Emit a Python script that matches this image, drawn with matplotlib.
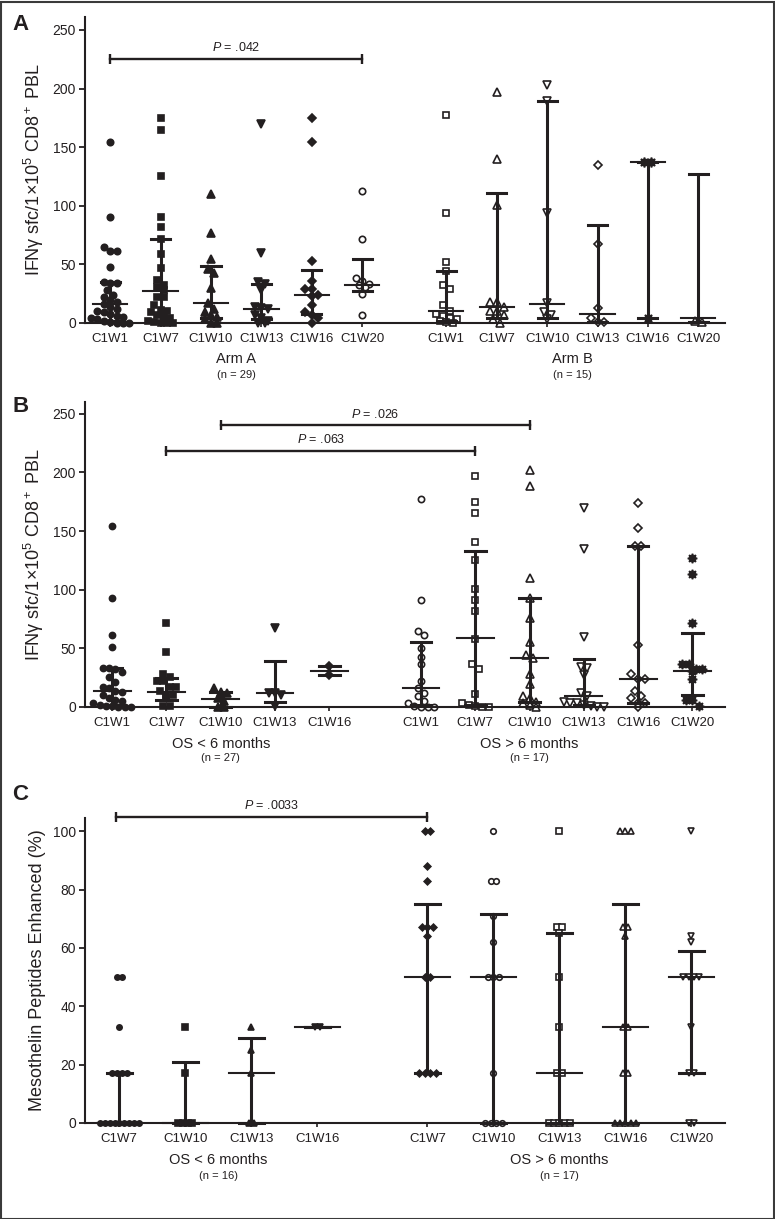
import numpy as np
import matplotlib
matplotlib.use('Agg')
import matplotlib.pyplot as plt
import matplotlib.transforms as mtransforms
from matplotlib.patches import Rectangle

plt.rcParams['font.family'] = ['Liberation Sans', 'DejaVu Sans']
plt.rcParams['mathtext.fontset'] = 'custom'
plt.rcParams['mathtext.rm'] = 'Liberation Sans'
plt.rcParams['mathtext.it'] = 'Liberation Sans:italic'

INK = '#231f20'

# ---- data ----
weeks_a = ['C1W1', 'C1W7', 'C1W10', 'C1W13', 'C1W16', 'C1W20']
weeks_b_short = ['C1W1', 'C1W7', 'C1W10', 'C1W13', 'C1W16']
weeks_c_short = ['C1W7', 'C1W10', 'C1W13', 'C1W16']
weeks_c_long = ['C1W7', 'C1W10', 'C1W13', 'C1W16', 'C1W20']

# panel A, arm A
armA_vals = [
    [154, 90, 65, 61, 61, 48, 35, 34, 34, 28, 24, 22, 20, 18, 16, 14, 12, 10, 9, 8, 6, 5, 4, 3, 2, 1, 0, 0, 0],
    [175, 165, 125, 90, 82, 72, 59, 47, 37, 32, 31, 28, 22, 22, 15, 11, 10, 9, 7, 5, 4, 2, 1, 0, 0, 0],
    [110, 77, 55, 46, 43, 30, 17, 12, 9, 7, 5, 3, 0, 0],
    [170, 60, 35, 33, 28, 14, 13, 12, 7, 4, 2, 0, 0],
    [175, 154, 53, 36, 29, 29, 24, 23, 15, 9, 7, 4, 0],
    [113, 72, 38, 36, 33, 32, 31, 25, 7],
]
armA_med = [16, 27, 17, 12, 24, 32]
armA_q1 = [2, 2, 4, 3, 8, 27]
armA_q3 = [35, 72, 49, 33, 45, 55]

# panel A, arm B
armB_vals = [
    [177, 94, 52, 44, 32, 29, 15, 10, 8, 6, 4, 3, 2, 1, 0],
    [197, 140, 101, 18, 18, 14, 10, 10, 7, 3, 0],
    [203, 189, 94, 17, 9, 7, 3],
    [135, 67, 13, 4, 1, 1],
    [137, 137, 4],
    [2, 1],
]
armB_med = [10, 14, 16, 8, 137, 4]
armB_q1 = [2, 4, 4, 1, 4, 1]
armB_q3 = [44, 111, 189, 84, 137, 127]

# panel B, OS < 6 months
bs_vals = [
    [154, 93, 61, 51, 33, 33, 32, 30, 26, 21, 17, 16, 14, 13, 10, 8, 6, 5, 3, 2, 1, 1, 0, 0, 0],
    [72, 47, 28, 26, 22, 22, 17, 17, 14, 10, 10, 8, 1, 1],
    [16, 13, 12, 8, 5, 0, 0],
    [67, 12, 12, 10, 1],
    [35, 27],
]
bs_med = [14, 13, 7, 12, 31]
bs_q1 = [2, 6, 0, 4, 27]
bs_q3 = [33, 25, 13, 39, 35]

# panel B, OS > 6 months
bl_vals = [
    [177, 91, 65, 61, 50, 43, 37, 22, 16, 12, 9, 5, 3, 1, 0, 0, 0],
    [197, 175, 165, 141, 125, 101, 91, 82, 58, 37, 32, 11, 3, 2, 1, 0, 0],
    [202, 188, 110, 93, 76, 55, 44, 42, 28, 20, 9, 8, 4, 3, 2, 0],
    [170, 135, 60, 34, 33, 27, 12, 9, 4, 3, 3, 2, 1, 0, 0],
    [174, 153, 137, 137, 53, 28, 24, 24, 14, 9, 8, 3, 3, 0],
    [127, 113, 72, 37, 37, 32, 32, 31, 24, 6, 6, 1],
]
bl_med = [16, 59, 42, 9, 24, 31]
bl_q1 = [2, 2, 4, 2, 3, 10]
bl_q3 = [55, 133, 93, 41, 137, 63]

# panel C, OS < 6 months
cs_vals = [
    [50, 50, 33, 17, 17, 17, 17, 0, 0, 0, 0, 0, 0, 0, 0, 0],
    [33, 17, 0, 0, 0, 0],
    [33, 25, 17, 0, 0],
    [33, 33],
]
cs_med = [0, 0, 17, 33]
cs_q1 = [0, 0, 0, 33]
cs_q3 = [17, 21, 29, 33]

# panel C, OS > 6 months
cl_vals = [
    [100, 100, 88, 83, 67, 67, 67, 64, 50, 50, 17, 17, 17, 17],
    [100, 83, 83, 71, 62, 50, 50, 50, 17, 0, 0, 0, 0],
    [100, 67, 67, 65, 50, 33, 17, 17, 0, 0, 0, 0, 0],
    [100, 100, 100, 67, 67, 64, 33, 33, 17, 17, 0, 0, 0, 0, 0],
    [100, 64, 62, 50, 50, 50, 50, 33, 17, 17, 0, 0],
]
cl_med = [50, 50, 17, 33, 50]
cl_q1 = [17, 0, 0, 0, 17]
cl_q3 = [75, 71.5, 65, 75, 59]

STAR = (8, 1, 0)
SIZE = {'o': 1.0, 's': 0.95, '^': 1.15, 'v': 1.15, 'D': 0.85, STAR: 1.5}

W, H = 775, 1219
fig = plt.figure(figsize=(W / 100, H / 100), dpi=100)
fig.patches.append(Rectangle((0.5 / W, 0.5 / H), 1 - 2 / W, 1 - 2 / H, transform=fig.transFigure,
                             fill=False, ec='#3a3a3a', lw=1.5))


def box(l, t, r, b):
    return [l / W, 1 - b / H, (r - l) / W, (b - t) / H]


def style(ax, xlim, ylim, yticks, ylabel):
    ax.set_xlim(*xlim)
    ax.set_ylim(*ylim)
    for s in ('top', 'right'):
        ax.spines[s].set_visible(False)
    for s in ('left', 'bottom'):
        ax.spines[s].set_linewidth(1.5)
        ax.spines[s].set_color(INK)
    ax.set_yticks(yticks)
    ax.tick_params(axis='y', length=4.5, width=1.3, pad=2, labelsize=10, colors=INK)
    ax.tick_params(axis='x', length=3, width=1.2, pad=4, labelsize=9.5, colors=INK)
    ax.set_ylabel(ylabel, fontsize=13, color=INK)
    ax.yaxis.set_label_coords(-0.061, 0.5)


def offsets(ax, vals, d):
    # lay tied/near-tied points out in symmetric rows, like a dot plot
    vals = np.asarray(vals, float)
    py = ax.transData.transform(np.column_stack([np.zeros(len(vals)), vals]))[:, 1]
    sx = ax.transData.transform((1, 0))[0] - ax.transData.transform((0, 0))[0]
    order = np.argsort(-vals, kind='stable')
    rows, cur = [], []
    for i in order:
        if cur and py[cur[0]] - py[i] >= d:
            rows.append(cur)
            cur = []
        cur.append(i)
    rows.append(cur)
    offs = np.zeros(len(vals))
    for r in rows:
        k = len(r)
        for j, i in enumerate(r):
            offs[i] = (j - (k - 1) / 2) * d / sx
    return offs


def group(ax, x, vals, med, q1, q3, marker, filled, ms, d):
    off = offsets(ax, vals, d)
    ax.plot(x + off, vals, ls='none', marker=marker, ms=ms * SIZE[marker],
            mfc=INK if filled else 'white', mec=INK, mew=1.2, clip_on=False, zorder=2)
    ax.plot([x - 0.34, x + 0.34], [med, med], color=INK, lw=1.5, zorder=3, clip_on=False)
    ax.plot([x, x], [q1, q3], color=INK, lw=2.2, zorder=3, clip_on=False, solid_capstyle='butt')
    for q in (q1, q3):
        ax.plot([x - 0.19, x + 0.19], [q, q], color=INK, lw=2.2, zorder=3, clip_on=False)


def draw_set(ax, pos, vals, med, q1, q3, markers, filled, ms, d):
    for i, x in enumerate(pos):
        group(ax, x, vals[i], med[i], q1[i], q3[i], markers[i], filled[i], ms, d)


def pbar(ax, x1, x2, y, label):
    ax.plot([x1, x2], [y, y], color=INK, lw=1.7, clip_on=False)
    ax.plot([x1, x2], [y, y], ls='none', marker='|', ms=7, mew=1.7, color=INK, clip_on=False)
    ax.annotate(label, ((x1 + x2) / 2, y), xytext=(0, 3.5), textcoords='offset points',
                ha='center', va='bottom', fontsize=9, color=INK, annotation_clip=False)


def glabel(ax, x, ypx, text, npx, ntext):
    tr = mtransforms.blended_transform_factory(ax.transData, fig.transFigure)
    ax.text(x, 1 - ypx / H, text, transform=tr, ha='center', va='center', fontsize=10.5, color=INK)
    ax.text(x, 1 - npx / H, ntext, transform=tr, ha='center', va='center', fontsize=8, color=INK)


def letter(ypx, s):
    fig.text(20.5 / W, 1 - ypx / H, s, ha='center', va='center', fontsize=16,
             weight='bold', color=INK)


ylab_ifn = r'IFNγ sfc/1×$10^5$ CD$8^+$ PBL'

# ---- panel A ----
axA = fig.add_axes(box(85, 17, 725, 323))
style(axA, (-0.5, 12.2), (0, 261), np.arange(0, 251, 50), ylab_ifn)
posA1 = np.arange(6)
posA2 = 6.67 + np.arange(6)
draw_set(axA, posA1, armA_vals, armA_med, armA_q1, armA_q3,
         ['o', 's', '^', 'v', 'D', 'o'], [1, 1, 1, 1, 1, 0], 4.6, 6.4)
draw_set(axA, posA2, armB_vals, armB_med, armB_q1, armB_q3,
         ['s', '^', 'v', 'D', STAR, '^'], [0, 0, 0, 0, 1, 0], 4.7, 6.8)
axA.set_xticks(np.r_[posA1, posA2])
axA.set_xticklabels(weeks_a + weeks_a)
pbar(axA, posA1[0], posA1[5], 225, '$P$ = .042')
glabel(axA, posA1.mean(), 359, 'Arm A', 375, '(n = 29)')
glabel(axA, posA2.mean(), 359, 'Arm B', 375, '(n = 15)')
letter(25, 'A')

# ---- panel B ----
axB = fig.add_axes(box(85, 402, 725, 707))
style(axB, (-0.5, 11.29), (0, 260), np.arange(0, 251, 50), ylab_ifn)
posB1 = np.arange(5)
posB2 = 5.69 + np.arange(6)
draw_set(axB, posB1, bs_vals, bs_med, bs_q1, bs_q3,
         ['o', 's', '^', 'v', 'D'], [1, 1, 1, 1, 1], 4.4, 6.3)
draw_set(axB, posB2, bl_vals, bl_med, bl_q1, bl_q3,
         ['o', 's', '^', 'v', 'D', STAR], [0, 0, 0, 0, 0, 1], 4.5, 6.7)
axB.set_xticks(np.r_[posB1, posB2])
axB.set_xticklabels(weeks_b_short + weeks_a)
pbar(axB, posB1[2], posB2[2], 240, '$P$ = .026')
pbar(axB, posB1[1], posB2[1], 218, '$P$ = .063')
glabel(axB, posB1[2], 744, 'OS < 6 months', 758, '(n = 27)')
glabel(axB, posB2[2], 744, 'OS > 6 months', 758, '(n = 17)')
letter(406, 'B')

# ---- panel C ----
axC = fig.add_axes(box(85, 818, 725, 1123))
style(axC, (-0.52, 9.18), (0, 104.5), np.arange(0, 101, 20), 'Mesothelin Peptides Enhanced (%)')
posC1 = np.arange(4)
posC2 = 4.67 + np.arange(5)
draw_set(axC, posC1, cs_vals, cs_med, cs_q1, cs_q3,
         ['o', 's', '^', 'v'], [1, 1, 1, 1], 3.8, 4.8)
draw_set(axC, posC2, cl_vals, cl_med, cl_q1, cl_q3,
         ['D', 'o', 's', '^', 'v'], [1, 0, 0, 0, 0], 4.0, 5.4)
axC.set_xticks(np.r_[posC1, posC2])
axC.set_xticklabels(weeks_c_short + weeks_c_long)
pbar(axC, posC1[0] - 0.05, posC2[0], 105, '$P$ = .0033')
glabel(axC, posC1.mean(), 1160, 'OS < 6 months', 1176, '(n = 16)')
glabel(axC, posC2.mean(), 1160, 'OS > 6 months', 1176, '(n = 17)')
letter(795, 'C')

fig.savefig('out.png', dpi=100)
